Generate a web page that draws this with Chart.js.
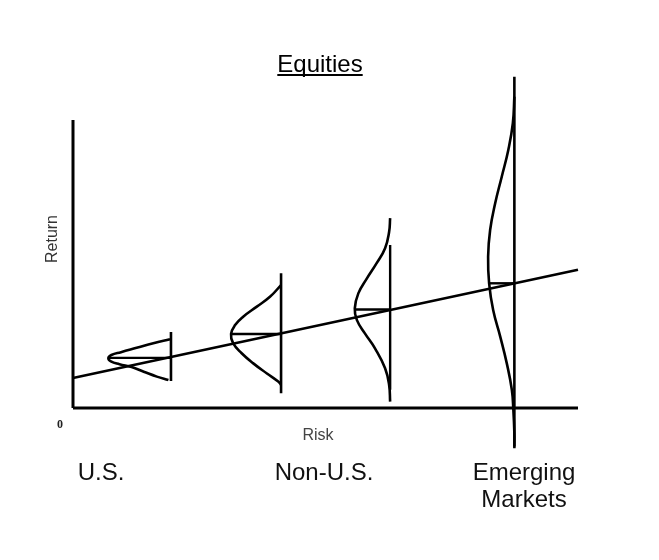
<!DOCTYPE html>
<html>
<head>
  <meta charset="UTF-8">
  <title>Equities</title>
  <script src="https://cdn.jsdelivr.net/npm/chart.js"></script>
  <style>
    body { margin: 0; background: #fff; }
    canvas { display: block; }
  </style>
</head>
<body>
  <canvas id="riskChart" width="659" height="560"></canvas>

  <script>
    // x = risk, y = return (arbitrary units, 0..100 along the drawn axes)
    const categories = ["U.S.", "Non-U.S.", "", "Emerging Markets"];

    const axisY = [{ x: 0, y: 0 }, { x: 0, y: 100 }];
    const axisX = [{ x: 0, y: 0 }, { x: 100, y: 0 }];
    const trendLine = [{ x: 0, y: 10.4 }, { x: 100, y: 48.0 }];

    // vertical risk markers
    const usBar = [{ x: 19.4, y: 26.4 }, { x: 19.4, y: 9.4 }];
    const nonUsBar = [{ x: 41.2, y: 46.8 }, { x: 41.2, y: 5.1 }];
    const thirdBar = [{ x: 62.8, y: 56.6 }, { x: 62.8, y: 6.3 }];
    const emBar = [{ x: 87.4, y: 115.0 }, { x: 87.4, y: -14.0 }];

    // mean lines
    const usMean = [{ x: 7.1, y: 17.4 }, { x: 19.4, y: 17.4 }];
    const nonUsMean = [{ x: 31.3, y: 25.7 }, { x: 41.2, y: 25.7 }];
    const thirdMean = [{ x: 55.8, y: 34.2 }, { x: 62.8, y: 34.2 }];
    const emMean = [{ x: 82.4, y: 43.3 }, { x: 87.4, y: 43.3 }];

    // return distributions
    const usCurve = [
      { x: 19.2, y: 23.9 }, { x: 15.9, y: 22.5 }, { x: 12.6, y: 20.9 }, { x: 9.5, y: 19.4 },
      { x: 7.6, y: 18.4 }, { x: 7.0, y: 17.3 }, { x: 7.5, y: 16.2 }, { x: 9.2, y: 15.2 },
      { x: 11.6, y: 14.2 }, { x: 14.0, y: 12.6 }, { x: 16.6, y: 10.9 }, { x: 18.9, y: 9.7 }
    ];
    const nonUsCurve = [
      { x: 41.2, y: 42.7 }, { x: 39.0, y: 38.6 }, { x: 36.4, y: 35.2 }, { x: 33.7, y: 31.7 },
      { x: 32.1, y: 28.8 }, { x: 31.3, y: 25.7 }, { x: 31.7, y: 22.5 }, { x: 33.4, y: 19.0 },
      { x: 35.7, y: 15.5 }, { x: 38.4, y: 12.0 }, { x: 40.7, y: 9.1 }, { x: 41.2, y: 8.0 }
    ];
    const thirdCurve = [
      { x: 62.8, y: 65.9 }, { x: 62.6, y: 61.2 }, { x: 61.8, y: 55.5 }, { x: 60.1, y: 50.2 },
      { x: 58.2, y: 45.0 }, { x: 56.5, y: 39.8 }, { x: 55.8, y: 34.6 }, { x: 56.2, y: 30.6 },
      { x: 57.8, y: 25.9 }, { x: 59.8, y: 20.7 }, { x: 61.8, y: 13.8 }, { x: 62.6, y: 8.0 },
      { x: 62.8, y: 2.2 }
    ];
    const emCurve = [
      { x: 87.4, y: 108.1 }, { x: 87.1, y: 98.9 }, { x: 86.2, y: 89.6 }, { x: 84.9, y: 80.3 },
      { x: 83.6, y: 71.1 }, { x: 82.6, y: 61.8 }, { x: 82.2, y: 52.5 }, { x: 82.4, y: 43.3 },
      { x: 83.2, y: 34.0 }, { x: 84.6, y: 24.8 }, { x: 85.9, y: 15.5 }, { x: 86.9, y: 6.3 },
      { x: 87.2, y: -0.7 }, { x: 87.4, y: -8.8 }, { x: 87.4, y: -13.4 }
    ];

    function seg(data, width) {
      return { data: data, borderColor: "#000", borderWidth: width, pointRadius: 0, tension: 0, clip: false };
    }
    function curve(data) {
      return { data: data, borderColor: "#000", borderWidth: 2.6, pointRadius: 0, tension: 0.45, clip: false };
    }

    // texts drawn on top of the chart
    const labelsPlugin = {
      id: "labels",
      afterDraw(chart) {
        const ctx = chart.ctx;
        ctx.save();
        ctx.textAlign = "center";
        ctx.textBaseline = "alphabetic";

        // title with underline
        ctx.fillStyle = "#000";
        ctx.font = "24px 'Liberation Sans', Arial, sans-serif";
        ctx.fillText("Equities", 320, 72);
        const w = ctx.measureText("Equities").width;
        ctx.fillRect(320 - w / 2, 74, w, 2);

        // category labels
        ctx.fillStyle = "#111";
        ctx.fillText(categories[0], 101, 480);
        ctx.fillText(categories[1], 324, 480);
        const em = categories[3].split(" ");
        ctx.fillText(em[0], 524, 480);
        ctx.fillText(em[1], 524, 507);

        // axis titles
        ctx.fillStyle = "#444";
        ctx.font = "16px 'Liberation Sans', Arial, sans-serif";
        ctx.fillText("Risk", 318, 440);
        ctx.save();
        ctx.translate(57, 239);
        ctx.rotate(-Math.PI / 2);
        ctx.fillStyle = "#333";
        ctx.fillText("Return", 0, 0);
        ctx.restore();

        ctx.fillStyle = "#222";
        ctx.font = "bold 12px 'Liberation Serif', 'Times New Roman', serif";
        ctx.fillText("0", 60, 428);
        ctx.restore();
      }
    };

    new Chart(document.getElementById("riskChart").getContext("2d"), {
      type: "line",
      data: {
        datasets: [
          seg(axisY, 3), seg(axisX, 3), seg(trendLine, 2.6),
          seg(usBar, 2.6), seg(nonUsBar, 2.6), seg(thirdBar, 2.4), seg(emBar, 2.6),
          seg(usMean, 2.4), seg(nonUsMean, 2.4), seg(thirdMean, 2.4), seg(emMean, 2.4),
          curve(usCurve), curve(nonUsCurve), curve(thirdCurve), curve(emCurve)
        ]
      },
      options: {
        responsive: false,
        animation: false,
        devicePixelRatio: 1,
        layout: { padding: { left: 62.9, right: 70.9, top: 76.8, bottom: 108.8 } },
        plugins: { legend: { display: false }, tooltip: { enabled: false }, title: { display: false } },
        scales: {
          x: { type: "linear", min: -2, max: 102, display: false },
          y: { type: "linear", min: -15, max: 115, display: false }
        }
      },
      plugins: [labelsPlugin]
    });
  </script>
</body>
</html>
